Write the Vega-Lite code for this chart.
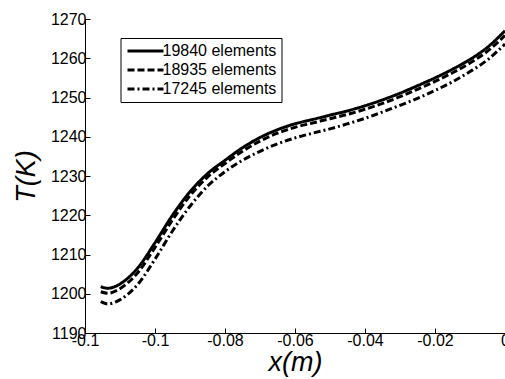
{
  "$schema": "https://vega.github.io/schema/vega-lite/v6.json",
  "autosize": {"type": "none"},
  "padding": {"left": 85, "top": 19, "right": 0, "bottom": 46},
  "width": 420,
  "height": 314,
  "background": "white",
  "config": {
    "view": {"stroke": null},
    "font": "Liberation Sans",
    "axis": {
      "domainColor": "black",
      "tickColor": "black",
      "labelColor": "black",
      "titleColor": "black",
      "labelFont": "Liberation Sans",
      "labelFontSize": 16,
      "titleFont": "Liberation Sans",
      "titleFontStyle": "italic",
      "titleFontWeight": "normal",
      "titleFontSize": 27,
      "grid": false,
      "tickSize": -5,
      "labelPadding": 4
    }
  },
  "data": {
    "values": [
      {"x": -0.1155, "T": 1201.8, "series": "19840 elements"},
      {"x": -0.1135, "T": 1201.4, "series": "19840 elements"},
      {"x": -0.111, "T": 1202.0, "series": "19840 elements"},
      {"x": -0.108, "T": 1203.8, "series": "19840 elements"},
      {"x": -0.105, "T": 1206.5, "series": "19840 elements"},
      {"x": -0.1, "T": 1213.0, "series": "19840 elements"},
      {"x": -0.095, "T": 1220.0, "series": "19840 elements"},
      {"x": -0.09, "T": 1226.0, "series": "19840 elements"},
      {"x": -0.085, "T": 1230.6, "series": "19840 elements"},
      {"x": -0.08, "T": 1234.0, "series": "19840 elements"},
      {"x": -0.075, "T": 1237.2, "series": "19840 elements"},
      {"x": -0.07, "T": 1239.8, "series": "19840 elements"},
      {"x": -0.065, "T": 1241.8, "series": "19840 elements"},
      {"x": -0.06, "T": 1243.3, "series": "19840 elements"},
      {"x": -0.055, "T": 1244.4, "series": "19840 elements"},
      {"x": -0.05, "T": 1245.5, "series": "19840 elements"},
      {"x": -0.045, "T": 1246.6, "series": "19840 elements"},
      {"x": -0.04, "T": 1247.9, "series": "19840 elements"},
      {"x": -0.035, "T": 1249.4, "series": "19840 elements"},
      {"x": -0.03, "T": 1251.1, "series": "19840 elements"},
      {"x": -0.025, "T": 1253.0, "series": "19840 elements"},
      {"x": -0.02, "T": 1255.0, "series": "19840 elements"},
      {"x": -0.015, "T": 1257.2, "series": "19840 elements"},
      {"x": -0.01, "T": 1259.7, "series": "19840 elements"},
      {"x": -0.005, "T": 1262.8, "series": "19840 elements"},
      {"x": 0, "T": 1267.0, "series": "19840 elements"},
      {"x": -0.1155, "T": 1200.5, "series": "18935 elements"},
      {"x": -0.1135, "T": 1200.1, "series": "18935 elements"},
      {"x": -0.111, "T": 1200.8, "series": "18935 elements"},
      {"x": -0.108, "T": 1202.6, "series": "18935 elements"},
      {"x": -0.105, "T": 1205.3, "series": "18935 elements"},
      {"x": -0.1, "T": 1211.8, "series": "18935 elements"},
      {"x": -0.095, "T": 1218.8, "series": "18935 elements"},
      {"x": -0.09, "T": 1225.0, "series": "18935 elements"},
      {"x": -0.085, "T": 1229.7, "series": "18935 elements"},
      {"x": -0.08, "T": 1233.2, "series": "18935 elements"},
      {"x": -0.075, "T": 1236.3, "series": "18935 elements"},
      {"x": -0.07, "T": 1238.9, "series": "18935 elements"},
      {"x": -0.065, "T": 1240.9, "series": "18935 elements"},
      {"x": -0.06, "T": 1242.4, "series": "18935 elements"},
      {"x": -0.055, "T": 1243.5, "series": "18935 elements"},
      {"x": -0.05, "T": 1244.6, "series": "18935 elements"},
      {"x": -0.045, "T": 1245.7, "series": "18935 elements"},
      {"x": -0.04, "T": 1247.0, "series": "18935 elements"},
      {"x": -0.035, "T": 1248.5, "series": "18935 elements"},
      {"x": -0.03, "T": 1250.2, "series": "18935 elements"},
      {"x": -0.025, "T": 1252.1, "series": "18935 elements"},
      {"x": -0.02, "T": 1254.1, "series": "18935 elements"},
      {"x": -0.015, "T": 1256.3, "series": "18935 elements"},
      {"x": -0.01, "T": 1258.8, "series": "18935 elements"},
      {"x": -0.005, "T": 1261.8, "series": "18935 elements"},
      {"x": 0, "T": 1265.8, "series": "18935 elements"},
      {"x": -0.1155, "T": 1198.0, "series": "17245 elements"},
      {"x": -0.1135, "T": 1197.4, "series": "17245 elements"},
      {"x": -0.111, "T": 1198.0, "series": "17245 elements"},
      {"x": -0.108, "T": 1199.7, "series": "17245 elements"},
      {"x": -0.105, "T": 1202.3, "series": "17245 elements"},
      {"x": -0.1, "T": 1208.8, "series": "17245 elements"},
      {"x": -0.095, "T": 1216.0, "series": "17245 elements"},
      {"x": -0.09, "T": 1222.3, "series": "17245 elements"},
      {"x": -0.085, "T": 1227.4, "series": "17245 elements"},
      {"x": -0.08, "T": 1231.1, "series": "17245 elements"},
      {"x": -0.075, "T": 1234.0, "series": "17245 elements"},
      {"x": -0.07, "T": 1236.3, "series": "17245 elements"},
      {"x": -0.065, "T": 1238.2, "series": "17245 elements"},
      {"x": -0.06, "T": 1239.7, "series": "17245 elements"},
      {"x": -0.055, "T": 1240.9, "series": "17245 elements"},
      {"x": -0.05, "T": 1242.0, "series": "17245 elements"},
      {"x": -0.045, "T": 1243.3, "series": "17245 elements"},
      {"x": -0.04, "T": 1244.7, "series": "17245 elements"},
      {"x": -0.035, "T": 1246.3, "series": "17245 elements"},
      {"x": -0.03, "T": 1248.0, "series": "17245 elements"},
      {"x": -0.025, "T": 1249.8, "series": "17245 elements"},
      {"x": -0.02, "T": 1251.8, "series": "17245 elements"},
      {"x": -0.015, "T": 1254.0, "series": "17245 elements"},
      {"x": -0.01, "T": 1256.6, "series": "17245 elements"},
      {"x": -0.005, "T": 1259.6, "series": "17245 elements"},
      {"x": 0, "T": 1263.6, "series": "17245 elements"}
    ]
  },
  "mark": {"type": "line", "color": "black", "strokeWidth": 3, "interpolate": "monotone", "clip": true},
  "encoding": {
    "x": {
      "field": "x", "type": "quantitative",
      "scale": {"domain": [-0.12, 0], "nice": false, "zero": false},
      "axis": {"title": "x(m)", "values": [-0.12, -0.1, -0.08, -0.06, -0.04, -0.02, 0], "format": "~g", "labelExpr": "replace(datum.label, '\u2212', '-')", "titlePadding": 1, "labelFlush": false, "labelOverlap": false}
    },
    "y": {
      "field": "T", "type": "quantitative",
      "scale": {"domain": [1190, 1270], "nice": false, "zero": false},
      "axis": {"title": "T(K)", "values": [1190, 1200, 1210, 1220, 1230, 1240, 1250, 1260, 1270], "format": "d", "titlePadding": 10, "labelOverlap": false}
    },
    "strokeDash": {
      "field": "series", "type": "nominal",
      "scale": {"domain": ["19840 elements", "18935 elements", "17245 elements"], "range": [[1, 0], [7, 3], [7, 3, 2, 3]]},
      "legend": {
        "title": null,
        "orient": "none",
        "legendX": 35.5,
        "legendY": 19,
        "strokeColor": "black",
        "fillColor": "white",
        "padding": 5,
        "symbolType": "M-3,0H3",
        "symbolSize": 144,
        "symbolStrokeWidth": 3,
        "symbolStrokeColor": "black",
        "symbolFillColor": "transparent",
        "symbolOffset": 12,
        "labelOffset": 9,
        "labelFont": "Liberation Sans",
        "labelFontSize": 16,
        "labelColor": "black",
        "rowPadding": 3
      }
    }
  }
}
